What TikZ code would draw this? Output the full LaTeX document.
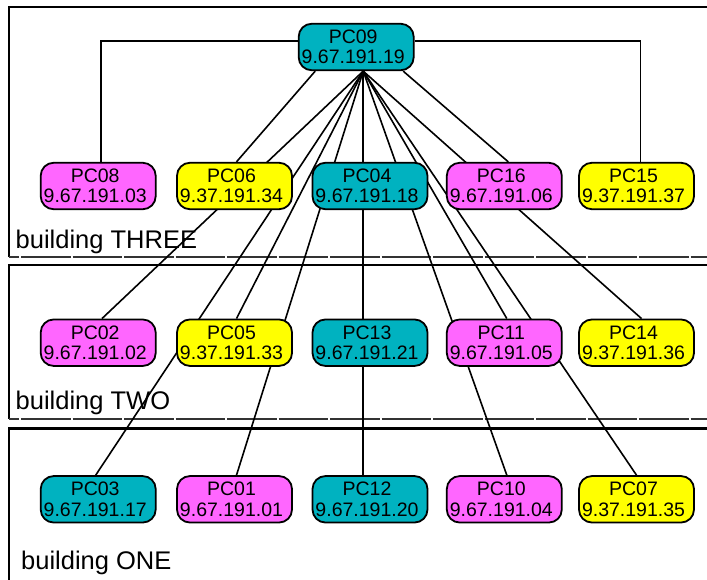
\documentclass[tikz,border=0pt]{standalone}
\usepackage{fontspec}
\setmainfont{Liberation Sans}
\pgfdeclarelayer{back}
\pgfdeclarelayer{edges}
\pgfsetlayers{back,edges,main}
\definecolor{pcteal}{RGB}{0,178,192}
\definecolor{pcpink}{RGB}{255,102,255}
\definecolor{pcyellow}{RGB}{255,255,0}
\newcommand\pctext[2]{#1\hspace*{6pt}\\#2\hspace*{6pt}}
\tikzset{
  pcbox/.style={draw=black, line width=1.8pt, rounded corners=13pt,
    minimum width=115pt, minimum height=46.5pt, inner sep=0pt, align=center,
    font=\fontsize{19.5}{20.3}\selectfont},
  tealbox/.style={pcbox, fill=pcteal},
  pinkbox/.style={pcbox, fill=pcpink},
  yellowbox/.style={pcbox, fill=pcyellow},
  link/.style={draw=black, line width=1.6pt},
  bldg/.style={draw=black, line width=2.2pt},
  bldgbottom/.style={draw=black!80, line width=2pt, dash pattern=on 49.5pt off 2pt, dash phase=39.3pt},
  lbl/.style={inner sep=0pt, anchor=base west, font=\fontsize{25.5}{30}\selectfont}
}
\begin{document}
\begin{tikzpicture}[x=1pt,y=-1pt]
\useasboundingbox (0,0) rectangle (707,579);

% buildings
\begin{pgfonlayer}{back}
\clip (0,0) rectangle (707,579);
\fill[white] (0,0) rectangle (707,579);
\draw[bldg] (720,7) -| (9,256.5);
\draw[bldgbottom] (9,256.5) -- (720,256.5);
\draw[bldg] (720,265) -| (9,418.5);
\draw[bldgbottom] (9,418.5) -- (720,418.5);
\draw[bldg] (720,428.5) -| (9,600);
\end{pgfonlayer}

\node[lbl] (bThree) at (15.5,248.3) {building THREE};
\node[lbl] (bTwo) at (15.5,409.5) {building TWO};
\node[lbl] (bOne) at (21,569.3) {building ONE};

% nodes
\node[tealbox] (PC09) at (356.2,47) {\pctext{PC09}{9.67.191.19}};

\node[pinkbox]   (PC08) at (98.2,186) {\pctext{PC08}{9.67.191.03}};
\node[yellowbox] (PC06) at (234.5,186) {\pctext{PC06}{9.37.191.34}};
\node[tealbox]   (PC04) at (370,186) {\pctext{PC04}{9.67.191.18}};
\node[pinkbox]   (PC16) at (504.3,186) {\pctext{PC16}{9.67.191.06}};
\node[yellowbox] (PC15) at (636.5,186) {\pctext{PC15}{9.37.191.37}};

\node[pinkbox]   (PC02) at (98.2,342.7) {\pctext{PC02}{9.67.191.02}};
\node[yellowbox] (PC05) at (234.5,342.7) {\pctext{PC05}{9.37.191.33}};
\node[tealbox]   (PC13) at (370,342.7) {\pctext{PC13}{9.67.191.21}};
\node[pinkbox]   (PC11) at (504.3,342.7) {\pctext{PC11}{9.67.191.05}};
\node[yellowbox] (PC14) at (636.5,342.7) {\pctext{PC14}{9.37.191.36}};

\node[tealbox]   (PC03) at (98.2,499.3) {\pctext{PC03}{9.67.191.17}};
\node[pinkbox]   (PC01) at (234.5,499.3) {\pctext{PC01}{9.67.191.01}};
\node[tealbox]   (PC12) at (370,499.3) {\pctext{PC12}{9.67.191.20}};
\node[pinkbox]   (PC10) at (504.3,499.3) {\pctext{PC10}{9.67.191.04}};
\node[yellowbox] (PC07) at (636.5,499.3) {\pctext{PC07}{9.37.191.35}};

\coordinate (hub) at ([xshift=7pt]PC09.south);

% edges
\begin{pgfonlayer}{edges}
\draw[link] ([yshift=6.3pt]PC09.west) -| ([xshift=3pt]PC08.north);
\draw[link] ([yshift=6.3pt]PC09.east) -| ([xshift=4pt]PC15.north);
\draw[link] ([xshift=-41pt]PC09.south) -- ([xshift=2pt]PC06.north);
\draw[link] ([xshift=47pt]PC09.south) -- ([xshift=4pt]PC16.north);
\draw[link] (hub) -- ([xshift=3.8pt]PC02.north);
\draw[link] (hub) -- ([xshift=-2.5pt]PC03.north);
\draw[link] (hub) -- ([xshift=2pt]PC05.north);
\draw[link] (hub) -- ([xshift=2pt]PC01.north);
\draw[link] (hub) -- (hub |- PC04.north);
\draw[link] (hub) -- (hub |- PC13.north);
\draw[link] (hub) -- (hub |- PC12.north);
\draw[link] (hub) -- ([xshift=2.5pt]PC10.north);
\draw[link] (hub) -- ([xshift=2.5pt]PC11.north);
\draw[link] (hub) -- ([xshift=0pt]PC07.north);
\draw[link] (hub) -- ([xshift=5pt]PC14.north);
\end{pgfonlayer}
\end{tikzpicture}
\end{document}
